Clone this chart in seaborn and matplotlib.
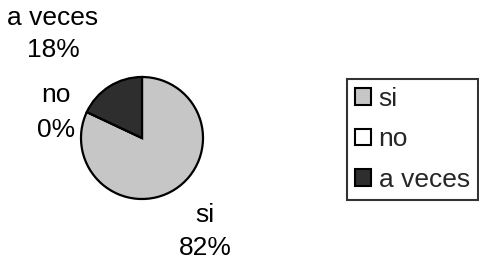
import matplotlib
matplotlib.use("Agg")
import matplotlib.pyplot as plt
import seaborn as sns
from matplotlib.patches import Patch

categories = ["si", "no", "a veces"]
values = [82, 0, 18]
colors = ["#c6c6c6", "#ffffff", "#2e2e2e"]

sns.set_theme(style="white")
plt.rcParams["font.family"] = ["Liberation Sans", "DejaVu Sans"]

W, H = 479, 260
FS = 19
fig = plt.figure(figsize=(W / 100, H / 100), dpi=100)
ax = fig.add_axes([81 / W, 1 - 199 / H, 122 / W, 122 / H])
wedges, _ = ax.pie(values, colors=colors, startangle=90, counterclock=False,
                   wedgeprops=dict(edgecolor="black", linewidth=1.6), radius=1)
ax.set_xlim(-1.0, 1.0)
ax.set_ylim(-1.0, 1.0)
ax.set_aspect("equal")
ax.axis("off")

# label positions in pixels: (center x, baseline of name, baseline of percent)
label_pos = {"si": (205, 222, 255), "no": (56, 102, 137), "a veces": (53, 25, 57)}
for c, v in zip(categories, values):
    x, y1, y2 = label_pos[c]
    fig.text(x / W, 1 - y1 / H, c, ha="center", va="baseline", fontsize=FS, color="black")
    fig.text(x / W, 1 - y2 / H, f"{v}%", ha="center", va="baseline", fontsize=FS, color="black")

handles = [Patch(facecolor=col, edgecolor="black", linewidth=1.5) for col in colors]
leg = fig.legend(handles, categories, loc="upper left",
                 bbox_to_anchor=(347 / W, 1 - 79 / H), fontsize=FS,
                 frameon=True, fancybox=False, edgecolor="black",
                 handlelength=0.6, handleheight=0.6, handletextpad=0.3,
                 labelspacing=0.62, borderpad=0.3, borderaxespad=0)
leg.get_frame().set_linewidth(1.5)

fig.savefig("out.png", dpi=100, facecolor="white")
